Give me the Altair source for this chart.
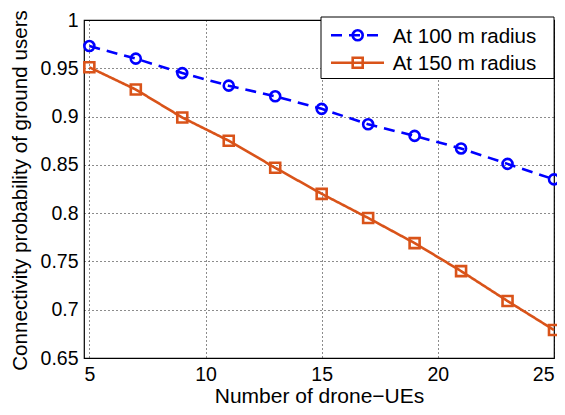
import altair as alt
import pandas as pd

drone_ues = [5, 7, 9, 11, 13, 15, 17, 19, 21, 23, 25]
radius_100 = [0.973, 0.960, 0.945, 0.932, 0.921, 0.908, 0.892, 0.880, 0.867, 0.851, 0.835]
radius_150 = [0.951, 0.928, 0.899, 0.875, 0.847, 0.820, 0.795, 0.769, 0.740, 0.709, 0.679]
series_names = ["At 100 m radius", "At 150 m radius"]
series_colors = ["#0000FF", "#D95319"]
x_ticks = [5, 10, 15, 20, 25]
y_ticks = [0.65, 0.7, 0.75, 0.8, 0.85, 0.9, 0.95, 1.0]

rows = []
for xv, yv in zip(drone_ues, radius_100):
    rows.append({"n": xv, "p": yv, "series": series_names[0]})
for xv, yv in zip(drone_ues, radius_150):
    rows.append({"n": xv, "p": yv, "series": series_names[1]})
df = pd.DataFrame(rows)

FONT = "Liberation Sans"
W, H = 470, 338

x_enc = alt.X("n:Q", scale=alt.Scale(domain=[4.77, 25], nice=False, zero=False),
              axis=alt.Axis(values=x_ticks, title="Number of drone\u2212UEs", format="d",
                            titleY=44, titleBaseline="alphabetic", titleFontSize=21))
y_enc = alt.Y("p:Q", scale=alt.Scale(domain=[0.65, 1.0], nice=False, zero=False),
              axis=alt.Axis(values=y_ticks, title="Connectivity probability of ground users",
                            format=".2~f", titleX=-57.5, titleY=170, titleAngle=-90,
                            titleBaseline="alphabetic", titleAlign="center", titleFontSize=20.6))
color_enc = alt.Color("series:N", scale=alt.Scale(domain=series_names, range=series_colors), legend=None)

lines = alt.Chart(df).mark_line(strokeWidth=2.6).encode(
    x=x_enc, y=y_enc, color=color_enc,
    strokeDash=alt.StrokeDash("series:N", scale=alt.Scale(domain=series_names, range=[[11, 7], [1, 0]]), legend=None),
)
points = alt.Chart(df).mark_point(filled=False, strokeWidth=2.6, size=100, opacity=1).encode(
    x="n:Q", y="p:Q", color=color_enc,
    shape=alt.Shape("series:N", scale=alt.Scale(domain=series_names, range=["circle", "square"]), legend=None),
)

# legend
one = pd.DataFrame({"k": [0]})
legend_box = alt.Chart(one).mark_rect(fill="white", stroke="black", strokeWidth=1).encode(
    x=alt.value(237), x2=alt.value(470), y=alt.value(-3), y2=alt.value(58.5))
legend_layers = [legend_box]
line_y = [15.3, 42.7]
text_y = [22.7, 50.3]
dashes = [[11, 7], [1, 0]]
shapes = ["circle", "square"]
for i in range(2):
    legend_layers.append(alt.Chart(one).mark_rule(strokeWidth=2.6, color=series_colors[i], strokeDash=dashes[i]).encode(
        x=alt.value(247), x2=alt.value(300), y=alt.value(line_y[i])))
    legend_layers.append(alt.Chart(one).mark_point(filled=False, strokeWidth=2.6, size=100, opacity=1,
                                                   color=series_colors[i], shape=shapes[i]).encode(
        x=alt.value(273.7), y=alt.value(line_y[i])))
    legend_layers.append(alt.Chart(pd.DataFrame({"t": [series_names[i]]})).mark_text(
        align="left", baseline="alphabetic", font=FONT, fontSize=20.5, color="black").encode(
        x=alt.value(308.7), y=alt.value(text_y[i]), text="t:N"))

chart = alt.layer(lines, points, *legend_layers).properties(
    width=W, height=H,
    autosize=alt.AutoSizeParams(type="none"),
    padding={"left": 76, "top": 12, "right": 3, "bottom": 49},
).configure_view(
    stroke="black", strokeWidth=1.2
).configure_axis(
    domain=False, ticks=False,
    grid=True, gridColor="black", gridDash=[1, 3], gridWidth=1, gridOpacity=0.9,
    labelFont=FONT, labelFontSize=19.5, labelColor="black",
    titleFont=FONT, titleColor="black", titleFontWeight="normal",
).configure_axisX(labelPadding=7).configure_axisY(labelPadding=6)

chart.save("out.html", embed_options={"renderer": "svg", "actions": False})
